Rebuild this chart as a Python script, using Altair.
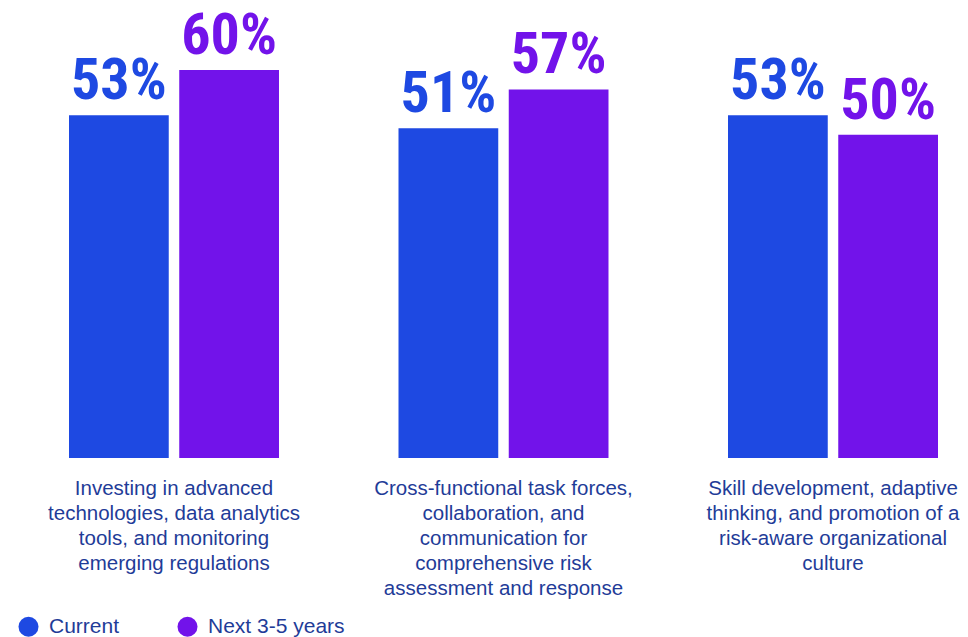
import altair as alt
import pandas as pd

categories = [
    "Investing in advanced\ntechnologies, data analytics\ntools, and monitoring\nemerging regulations",
    "Cross-functional task forces,\ncollaboration, and\ncommunication for\ncomprehensive risk\nassessment and response",
    "Skill development, adaptive\nthinking, and promotion of a\nrisk-aware organizational\nculture",
]
cat_keys = ["A", "B", "C"]
series = ["Current", "Next 3-5 years"]
current = [53, 51, 53]
next_years = [60, 57, 50]
colors = ["#1E49E2", "#7213EA"]
text_color = "#1F3C98"

rows = []
for k, c, v1, v2 in zip(cat_keys, categories, current, next_years):
    rows.append({"key": k, "cat": c, "series": series[0], "value": v1, "label": f"{v1}%"})
    rows.append({"key": k, "cat": c, "series": series[1], "value": v2, "label": f"{v2}%"})
df = pd.DataFrame(rows)
cat_df = pd.DataFrame({"key": cat_keys, "cat": categories})

x_enc = alt.X("key:N", sort=cat_keys, axis=None,
              scale=alt.Scale(paddingInner=0.3627, paddingOuter=0))
xo_enc = alt.XOffset("series:N", sort=series,
                     scale=alt.Scale(paddingInner=0.0952, paddingOuter=0))
y_enc = alt.Y("value:Q", axis=None, scale=alt.Scale(domain=[0, 60], nice=False, zero=True))
color_enc = alt.Color("series:N", sort=series,
                      scale=alt.Scale(domain=series, range=colors),
                      legend=alt.Legend(
                          title=None, orient="none", direction="horizontal",
                          legendX=-51, legendY=546,
                          symbolType="circle", symbolSize=400, symbolStrokeWidth=0,
                          labelFont="Liberation Sans", labelFontSize=21,
                          labelColor=text_color, labelOffset=10, columnPadding=57,
                      ))

bars = alt.Chart(df).mark_bar().encode(x=x_enc, xOffset=xo_enc, y=y_enc, color=color_enc)

values = alt.Chart(df).mark_text(
    font="Roboto Condensed, DejaVu Sans Condensed",
    fontWeight="bold", fontSize=58,
    baseline="alphabetic", dy=-16, align="center",
).encode(x=x_enc, xOffset=xo_enc, y=y_enc, text="label:N",
         color=alt.Color("series:N", sort=series,
                         scale=alt.Scale(domain=series, range=colors), legend=None))

cats = alt.Chart(cat_df).mark_text(
    font="Liberation Sans", fontSize=20.5, color=text_color,
    lineBreak="\n", lineHeight=25, baseline="middle", align="center",
).encode(x=x_enc, y=alt.value(419), text="cat:N")

chart = alt.layer(bars, values, cats).properties(
    width=869, height=388,
    autosize=alt.AutoSizeParams(type="none"),
    padding={"left": 61, "top": 62, "right": 22, "bottom": 179},
).configure_view(stroke=None)

chart.save("out.html", embed_options={"renderer": "svg", "actions": False})
